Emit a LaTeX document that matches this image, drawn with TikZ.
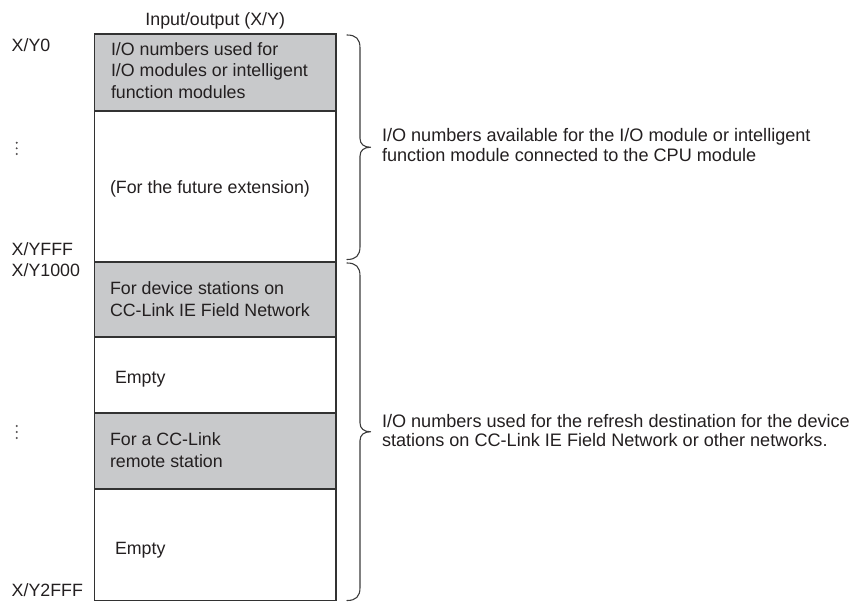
\documentclass[tikz,border=0pt]{standalone}
\usepackage{fontspec}
\setmainfont{Liberation Sans}
\definecolor{ink}{RGB}{35,31,32}
\definecolor{cellgray}{RGB}{200,201,203}
\definecolor{linec}{RGB}{50,50,50}
\definecolor{bracec}{RGB}{60,60,60}
\begin{document}
\begin{tikzpicture}[x=1pt,y=-1pt,
  every node/.style={inner sep=0pt, outer sep=0pt, text=ink, font=\fontsize{17.8}{21}\selectfont},
  cell/.style={draw=linec, line width=1.3pt, rectangle, minimum width=241.5pt, anchor=north west},
  grey/.style={fill=cellgray},
  lbl/.style={anchor=base west},
  note/.style={anchor=base west, font=\fontsize{18.1}{21}\selectfont},
  bracestyle/.style={draw=bracec, line width=1.1pt, line cap=round, line join=round},
  dotstyle/.style={fill=ink!80}]
\useasboundingbox (0,0) rectangle (861,602);

% cells
\node[cell,grey,minimum height=77pt]   (r1) at (94.5,34)  {};
\node[cell,minimum height=151pt]       (r2) at (94.5,111) {};
\node[cell,grey,minimum height=75pt]   (r3) at (94.5,262) {};
\node[cell,minimum height=76pt]        (r4) at (94.5,337) {};
\node[cell,grey,minimum height=76pt]   (r5) at (94.5,413) {};
\node[cell,minimum height=111.5pt]     (r6) at (94.5,489) {};

% title
\node[anchor=base] (title) at (215.2,25.5) {Input/output (X/Y)};

% left labels
\node[lbl] (a0)    at (11.7,51.5)  {X/Y0};
\node[lbl] (afff)  at (11.7,255)   {X/YFFF};
\node[lbl] (a1000) at (11.7,276.5) {X/Y1000};
\node[lbl] (a2fff) at (11.7,596.5) {X/Y2FFF};

% vertical dots
\foreach \yy in {142.7,148.3,154}{\fill[dotstyle] (16.7,\yy) circle (1.1pt);}
\foreach \yy in {426,432,438}{\fill[dotstyle] (16.7,\yy) circle (1.1pt);}

% cell texts
\node[lbl] (t1a) at (111,56) {I/O numbers used for};
\node[lbl] (t1b) at (111,77) {I/O modules or intelligent};
\node[lbl] (t1c) at (111,98) {function modules};
\node[lbl] (t2)  at (110,193) {(For the future extension)};
\node[lbl] (t3a) at (110,294) {For device stations on};
\node[lbl] (t3b) at (110,316) {CC-Link IE Field Network};
\node[lbl] (t4)  at (115,383.5) {Empty};
\node[lbl] (t5a) at (110,445) {For a CC-Link};
\node[lbl] (t5b) at (110,467) {remote station};
\node[lbl] (t6)  at (115,554) {Empty};

% braces
\newcommand\curlyb[2]{%
  \pgfmathsetmacro\ym{(#1+#2)/2}%
  \draw[bracestyle] (347,#1) .. controls (356,#1) and (360,#1+4) .. (360,#1+13)
    -- (360,\ym-9) .. controls (360,\ym-3) and (364,\ym) .. (370.5,\ym)
    .. controls (364,\ym) and (360,\ym+3) .. (360,\ym+9)
    -- (360,#2-13) .. controls (360,#2-4) and (356,#2) .. (347,#2);}
\curlyb{35}{259.5}
\curlyb{263}{600.5}

% right texts
\node[note] (n1a) at (382,141.5) {I/O numbers available for the I/O module or intelligent};
\node[note] (n1b) at (382,161)   {function module connected to the CPU module};
\node[note] (n2a) at (382,427)   {I/O numbers used for the refresh destination for the device};
\node[note] (n2b) at (382,446.5) {stations on CC-Link IE Field Network or other networks.};
\end{tikzpicture}
\end{document}
